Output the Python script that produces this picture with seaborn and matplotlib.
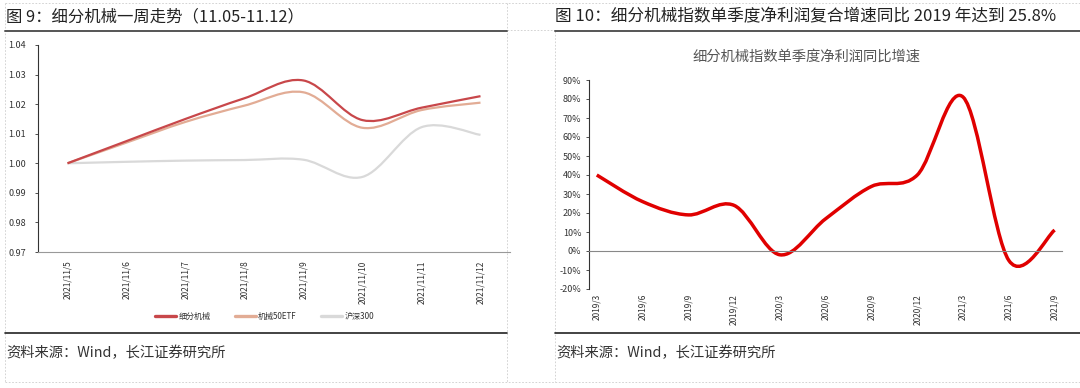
import numpy as np
import pandas as pd
import matplotlib.pyplot as plt
from matplotlib.path import Path
from matplotlib.patches import PathPatch
from matplotlib.lines import Line2D
from matplotlib.ticker import FixedLocator
import seaborn as sns

# data - left chart (figure 9)
dates = ['2021/11/5', '2021/11/6', '2021/11/7', '2021/11/8',
         '2021/11/9', '2021/11/10', '2021/11/11', '2021/11/12']
jixie = [1.000, 1.0075, 1.0150, 1.0220, 1.0280, 1.0146, 1.0188, 1.0227]
etf50 = [1.000, 1.0070, 1.0140, 1.0195, 1.0240, 1.0120, 1.0180, 1.0205]
hs300 = [1.000, 1.0005, 1.0009, 1.0011, 1.0012, 0.9954, 1.0122, 1.0096]
series_names = ['细分机械', '机械50ETF', '沪深300']
series_colors = ['#C8474A', '#E2AC95', '#D9D9D9']

# data - right chart (figure 10)
quarters = ['2019/3', '2019/6', '2019/9', '2019/12', '2020/3', '2020/6',
            '2020/9', '2020/12', '2021/3', '2021/6', '2021/9']
growth = [40, 26, 19, 24, -2, 17, 34, 40, 81, -5, 11]

W, H = 1080, 388
sns.set_theme(style='white')
plt.rcParams['font.family'] = ['Noto Sans CJK SC', 'DejaVu Sans']
plt.rcParams['axes.unicode_minus'] = False

fig = plt.figure(figsize=(W / 100, H / 100), dpi=100)


def fx(px):
    return px / W


def fy(py):
    return 1 - py / H


def smooth(ax, line):
    # redraw a seaborn line as a smooth bezier through the same points
    xy = line.get_xydata()
    if len(xy) < 2:
        return
    x, y = xy[:, 0], xy[:, 1]
    n = len(x)
    verts = [(x[0], y[0])]
    codes = [Path.MOVETO]
    for i in range(n - 1):
        xa, ya = (x[i - 1], y[i - 1]) if i > 0 else (x[i], y[i])
        xb, yb = (x[i + 2], y[i + 2]) if i + 2 < n else (x[i + 1], y[i + 1])
        c1 = (x[i] + (x[i + 1] - xa) / 6, y[i] + (y[i + 1] - ya) / 6)
        c2 = (x[i + 1] - (xb - x[i]) / 6, y[i + 1] - (yb - y[i]) / 6)
        verts += [c1, c2, (x[i + 1], y[i + 1])]
        codes += [Path.CURVE4] * 3
    ax.add_patch(PathPatch(Path(verts, codes), fill=False, edgecolor=line.get_color(),
                           lw=line.get_linewidth(), capstyle='butt', joinstyle='round',
                           zorder=line.get_zorder()))
    line.remove()


# ---- left chart
df = pd.DataFrame({'pos': list(range(len(dates))) * 3,
                   'value': jixie + etf50 + hs300,
                   'series': np.repeat(series_names, len(dates))})
ax1 = fig.add_axes([fx(38), fy(252), fx(510) - fx(38), fy(45) - fy(252)])
sns.lineplot(data=df, x='pos', y='value', hue='series', hue_order=series_names,
             palette=series_colors, lw=1.6, ax=ax1)
for ln in list(ax1.get_lines())[::-1]:
    smooth(ax1, ln)
ax1.set_xlim(-0.5, len(dates) - 0.5)
ax1.set_ylim(0.97, 1.04)
ax1.set_yticks(np.arange(0.97, 1.0401, 0.01))
ax1.set_yticklabels([f'{v:.2f}' for v in np.arange(0.97, 1.0401, 0.01)])
ax1.set_xticks(range(len(dates)))
ax1.set_xticklabels(dates)
ax1.xaxis.set_minor_locator(FixedLocator(np.arange(0.5, len(dates) - 0.5, 1)))
ax1.tick_params(axis='x', which='major', length=0, labelsize=6, labelcolor='#333333',
                pad=6, labelrotation=90)
ax1.tick_params(axis='x', which='minor', length=2.5, direction='in', color='#333333', width=0.6)
ax1.tick_params(axis='y', length=2.5, direction='out', labelsize=6.5, labelcolor='#333333',
                color='#333333', width=0.6, left=True, pad=6)
ax1.set_xlabel('')
ax1.set_ylabel('')
for s in ['top', 'right']:
    ax1.spines[s].set_visible(False)
for s in ['left', 'bottom']:
    ax1.spines[s].set_color('#333333')
    ax1.spines[s].set_linewidth(0.8)
ax1.spines['bottom'].set_color('#999999')
sns.move_legend(ax1, 'center', bbox_to_anchor=(0.48, -0.31), ncol=3, frameon=False,
                title=None, fontsize=5.8, handlelength=2.6, columnspacing=3.0,
                handletextpad=0.3)
for t in ax1.get_legend().get_texts():
    t.set_color('#333333')
for h in ax1.get_legend().legend_handles:
    h.set_linewidth(2.4)

# ---- right chart
df2 = pd.DataFrame({'pos': range(len(quarters)), 'growth': growth})
ax2 = fig.add_axes([fx(589), fy(289), fx(1062) - fx(589), fy(80) - fy(289)])
sns.lineplot(data=df2, x='pos', y='growth', color='#E00000', lw=2.5, ax=ax2, legend=False)
for ln in list(ax2.get_lines()):
    smooth(ax2, ln)
ax2.set_xlim(-0.17, 10.16)
ax2.set_ylim(-20, 90)
ax2.spines['bottom'].set_position(('data', 0))
ax2.set_yticks(range(-20, 91, 10))
ax2.set_yticklabels([f'{v}%' for v in range(-20, 91, 10)])
ax2.set_xticks(range(len(quarters)))
ax2.set_xticklabels(quarters)
ax2.xaxis.set_minor_locator(FixedLocator(np.arange(0, len(quarters) - 1) + 0.83))
ax2.spines['bottom'].set_color('#888888')
ax2.spines['bottom'].set_linewidth(0.8)
ax2.tick_params(axis='x', which='major', length=0, labelsize=6, labelcolor='#333333',
                pad=31, labelrotation=90)
ax2.tick_params(axis='x', which='minor', length=2.5, direction='in', color='#888888', width=0.6)
ax2.tick_params(axis='y', length=2.5, direction='out', labelsize=6.5, labelcolor='#333333',
                color='#333333', width=0.6, left=True, pad=3)
ax2.set_xlabel('')
ax2.set_ylabel('')
for s in ['top', 'right']:
    ax2.spines[s].set_visible(False)
ax2.spines['left'].set_color('#333333')
ax2.spines['left'].set_linewidth(0.8)
fig.text(fx(806), fy(57), '细分机械指数单季度净利润同比增速', ha='center', va='center',
         fontsize=10.3, color='#555555')

# ---- frame, titles and source lines
dash = dict(color='#CCCCCC', lw=0.6, ls=(0, (2, 2)))
for (x0, y0, x1, y1) in [(5, 3, 1080, 3), (5, 3, 5, 382), (507, 3, 507, 382),
                         (555, 31, 555, 382), (5, 382, 1080, 382), (507, 30, 555, 30)]:
    fig.add_artist(Line2D([fx(x0), fx(x1)], [fy(y0), fy(y1)], **dash))
for (x0, x1) in [(5, 507), (555, 1080)]:
    fig.add_artist(Line2D([fx(x0), fx(x1)], [fy(31), fy(31)], color='#555555', lw=1.4))
    fig.add_artist(Line2D([fx(x0), fx(x1)], [fy(333), fy(333)], color='#222222', lw=1.2))
    fig.text(fx(x0 + 1), fy(353), '资料来源：Wind，长江证券研究所', ha='left', va='center',
             fontsize=10.3, color='#333333')

fig.text(fx(6), fy(17), '图 9：细分机械一周走势（11.05-11.12）', ha='left', va='center',
         fontsize=11.8, color='#222222')
fig.text(fx(555), fy(17), '图 10：细分机械指数单季度净利润复合增速同比 2019 年达到 25.8%',
         ha='left', va='center', fontsize=12, color='#222222')

fig.savefig('out.png', dpi=100, facecolor='white')
